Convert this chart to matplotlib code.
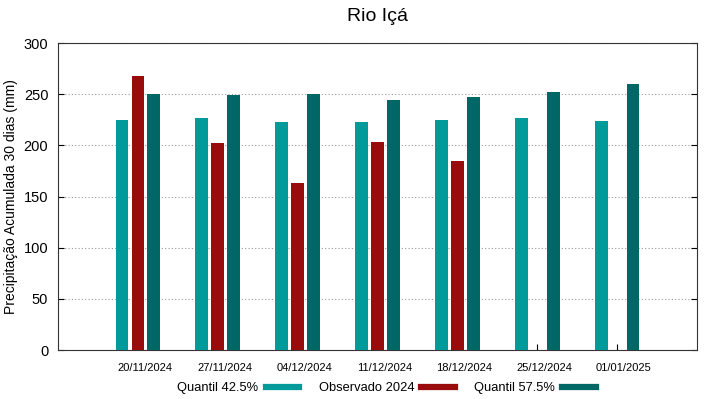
import numpy as np
import matplotlib
matplotlib.use("Agg")
import matplotlib.pyplot as plt
from matplotlib.lines import Line2D

plt.rcParams['font.family'] = ['Liberation Sans', 'DejaVu Sans']

dates = ["20/11/2024", "27/11/2024", "04/12/2024", "11/12/2024", "18/12/2024", "25/12/2024", "01/01/2025"]
q425 = [225, 227, 223, 223, 225, 227, 224]
obs = [268, 202, 163, 203, 185, np.nan, np.nan]
q575 = [250, 249, 250, 244, 247, 252, 260]

c1, c2, c3 = "#009a9a", "#990c0c", "#006767"

fig = plt.figure(figsize=(7.19, 3.99), dpi=100)
ax = fig.add_axes([0.0807, 0.1228, 0.8887, 0.7694])

x = np.arange(1, len(dates) + 1)
w = 0.16
ax.bar(x - 0.2, q425, w, color=c1, zorder=3)
ax.bar(x, obs, w, color=c2, zorder=3)
ax.bar(x + 0.2, q575, w, color=c3, zorder=3)

ax.set_xlim(0, 8)
ax.set_ylim(0, 300)
ax.set_yticks(np.arange(0, 301, 50))
ax.set_xticks(x)
ax.set_xticklabels([])
ax.set_xticks(x + 0.085, minor=True)
ax.set_xticklabels(dates, minor=True, fontsize=8)
ax.tick_params(axis='x', which='major', direction='in', length=4, top=False)
ax.tick_params(axis='x', which='minor', length=0, pad=9)
ax.tick_params(axis='y', direction='in', length=4, labelsize=10.5, right=True, pad=7)
ax.grid(axis='y', linestyle=(0, (1, 2)), color='#999999', linewidth=0.8, zorder=0)
for s in ax.spines.values():
    s.set_color('#333333')
    s.set_linewidth(0.8)

ax.set_ylabel("Precipitação Acumulada 30 dias (mm)", fontsize=10)
ax.set_title("Rio Içá", fontsize=14, pad=16)

handles = [Line2D([], [], color=c, lw=4.5) for c in (c1, c2, c3)]
fig.legend(handles, ["Quantil 42.5%", "Observado 2024", "Quantil 57.5%"],
           loc='center', bbox_to_anchor=(0.5376, 0.027), ncol=3, frameon=False,
           markerfirst=False, fontsize=9.3, handlelength=2.6, columnspacing=1.5,
           handletextpad=0.55)

fig.savefig("out.png", dpi=100)
